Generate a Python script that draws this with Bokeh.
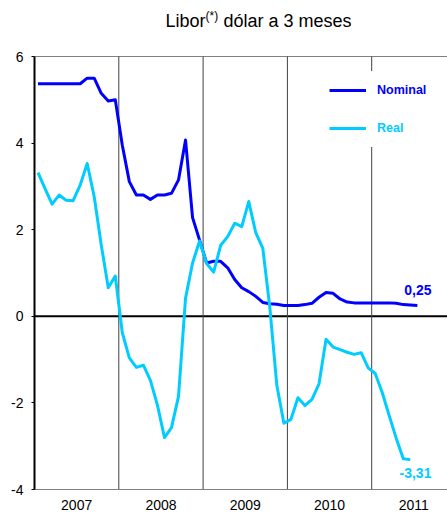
from bokeh.plotting import figure
from bokeh.models import Span, Label, Legend, LegendItem, FixedTicker, Range1d
from bokeh.embed import file_html
from bokeh.resources import INLINE

# ---- data (monthly, Jan 2007 onwards) ----
start_year = 2007
nominal = [5.37, 5.37, 5.37, 5.37, 5.37, 5.37, 5.37, 5.50, 5.50, 5.15,
           4.97, 5.00, 3.95, 3.11, 2.80, 2.80, 2.70, 2.80, 2.80, 2.84,
           3.15, 4.07, 2.28, 1.76, 1.23, 1.27, 1.27, 1.12, 0.85, 0.66,
           0.57, 0.46, 0.32, 0.29, 0.28, 0.25, 0.25, 0.25, 0.27, 0.30,
           0.44, 0.55, 0.53, 0.40, 0.33, 0.31, 0.31, 0.31, 0.31, 0.31,
           0.31, 0.30, 0.27, 0.26, 0.25]
real = [3.32, 2.95, 2.59, 2.80, 2.68, 2.67, 3.03, 3.53, 2.76, 1.65,
        0.66, 0.93, -0.38, -0.96, -1.18, -1.13, -1.48, -2.05, -2.80, -2.57,
        -1.85, 0.42, 1.23, 1.74, 1.22, 1.02, 1.64, 1.84, 2.15, 2.07,
        2.65, 1.93, 1.57, 0.20, -1.60, -2.47, -2.38, -1.88, -2.06, -1.92,
        -1.56, -0.53, -0.71, -0.77, -0.83, -0.88, -0.84, -1.19, -1.32, -1.76,
        -2.30, -2.82, -3.29, -3.31]
years = ["2007", "2008", "2009", "2010", "2011"]
y_ticks = [-4, -2, 0, 2, 4, 6]
y_tick_labels = ["-4", "-2", "0", "2", "4", "6"]
series_names = ["Nominal", "Real"]
last_labels = ["0,25", "-3,31"]

x_nom = [start_year + (i + 0.5) / 12 for i in range(len(nominal))]
x_real = [start_year + (i + 0.5) / 12 for i in range(len(real))]

BLUE = "#0000FF"
CYAN = "#00CCFF"
FONT = "Liberation Sans"

PX_PER_UNIT_Y = 43.3
PX_PER_YEAR = 84.3
FRAME_W, FRAME_H = 413, 489

p = figure(frame_width=FRAME_W, frame_height=FRAME_H,
           min_border_left=34, min_border_right=0, min_border_top=0, min_border_bottom=0,
           x_range=Range1d(2007, 2007 + FRAME_W / PX_PER_YEAR),
           y_range=Range1d(-4, 6 + 56 / PX_PER_UNIT_Y),
           output_backend="svg", toolbar_location=None)
p.outline_line_color = None
p.background_fill_color = "white"
p.border_fill_color = "white"
p.xgrid.grid_line_color = None
p.ygrid.grid_line_color = None

# year separators (between -4 and 6)
sep_x = [int(y) for y in years[1:]]
p.segment(x0=sep_x, y0=[y_ticks[0]] * len(sep_x), x1=sep_x, y1=[y_ticks[-1]] * len(sep_x),
          line_color="#404040", line_width=1)

# top border and zero line
p.add_layout(Span(location=y_ticks[-1], dimension="width", line_color="#808080", line_width=1, level="underlay"))
p.add_layout(Span(location=0, dimension="width", line_color="black", line_width=2, level="underlay"))

# x axis
xa = p.xaxis[0]
xa.ticker = FixedTicker(ticks=[int(y) + 0.5 for y in years])
xa.major_label_overrides = {int(y) + 0.5: y for y in years}
xa.major_tick_out = 0
xa.major_tick_in = 0
xa.minor_tick_line_color = None
xa.axis_line_color = "#808080"
xa.major_label_standoff = 10
xa.major_label_text_font = FONT
xa.major_label_text_font_size = "14px"
xa.major_label_text_color = "black"

# y axis
ya = p.yaxis[0]
ya.ticker = FixedTicker(ticks=y_ticks)
ya.bounds = (y_ticks[0], y_ticks[-1])
ya.major_label_overrides = dict(zip(y_ticks, y_tick_labels))
ya.axis_line_color = "black"
ya.axis_line_width = 2
ya.major_tick_out = 3
ya.major_tick_in = 0
ya.major_tick_line_color = "black"
ya.minor_tick_line_color = None
ya.major_label_standoff = 8
ya.major_label_text_font = FONT
ya.major_label_text_font_size = "14px"
ya.major_label_text_color = "black"

r_nom = p.line(x_nom, nominal, line_color=BLUE, line_width=3, line_join="round")
r_real = p.line(x_real, real, line_color=CYAN, line_width=3, line_join="round")

# end labels
p.add_layout(Label(x=2011.386, y=0.60, text=last_labels[0], text_color=BLUE, text_font=FONT,
                   text_font_style="bold", text_font_size="14px", text_baseline="middle"))
p.add_layout(Label(x=2011.33, y=-3.63, text=last_labels[1], text_color=CYAN, text_font=FONT,
                   text_font_style="bold", text_font_size="14px", text_baseline="middle"))

# legends (separate so each label keeps its colour)
for name, r, col, vy in [(series_names[0], r_nom, BLUE, 380), (series_names[1], r_real, CYAN, 342)]:
    leg = Legend(items=[LegendItem(label=name, renderers=[r])], location=(295, vy),
                 label_text_color=col, label_text_font=FONT, label_text_font_style="bold",
                 label_text_font_size="12.5px", glyph_width=37, glyph_height=38, label_height=38,
                 label_standoff=11, padding=0, spacing=0, margin=0,
                 border_line_color=None, background_fill_color="white", background_fill_alpha=1)
    p.add_layout(leg, "center")

# title with superscript (screen units relative to the frame's bottom-left)
p.add_layout(Label(x=131, y=458.5, x_units="screen", y_units="screen", text="Libor",
                   text_font=FONT, text_font_size="18px", text_color="black"))
p.add_layout(Label(x=171, y=467, x_units="screen", y_units="screen", text="(*)",
                   text_font=FONT, text_font_size="12px", text_color="black"))
p.add_layout(Label(x=189, y=458.5, x_units="screen", y_units="screen", text="dólar a 3 meses",
                   text_font=FONT, text_font_size="18px", text_color="black"))

open("out.html", "w").write(file_html(p, INLINE))
